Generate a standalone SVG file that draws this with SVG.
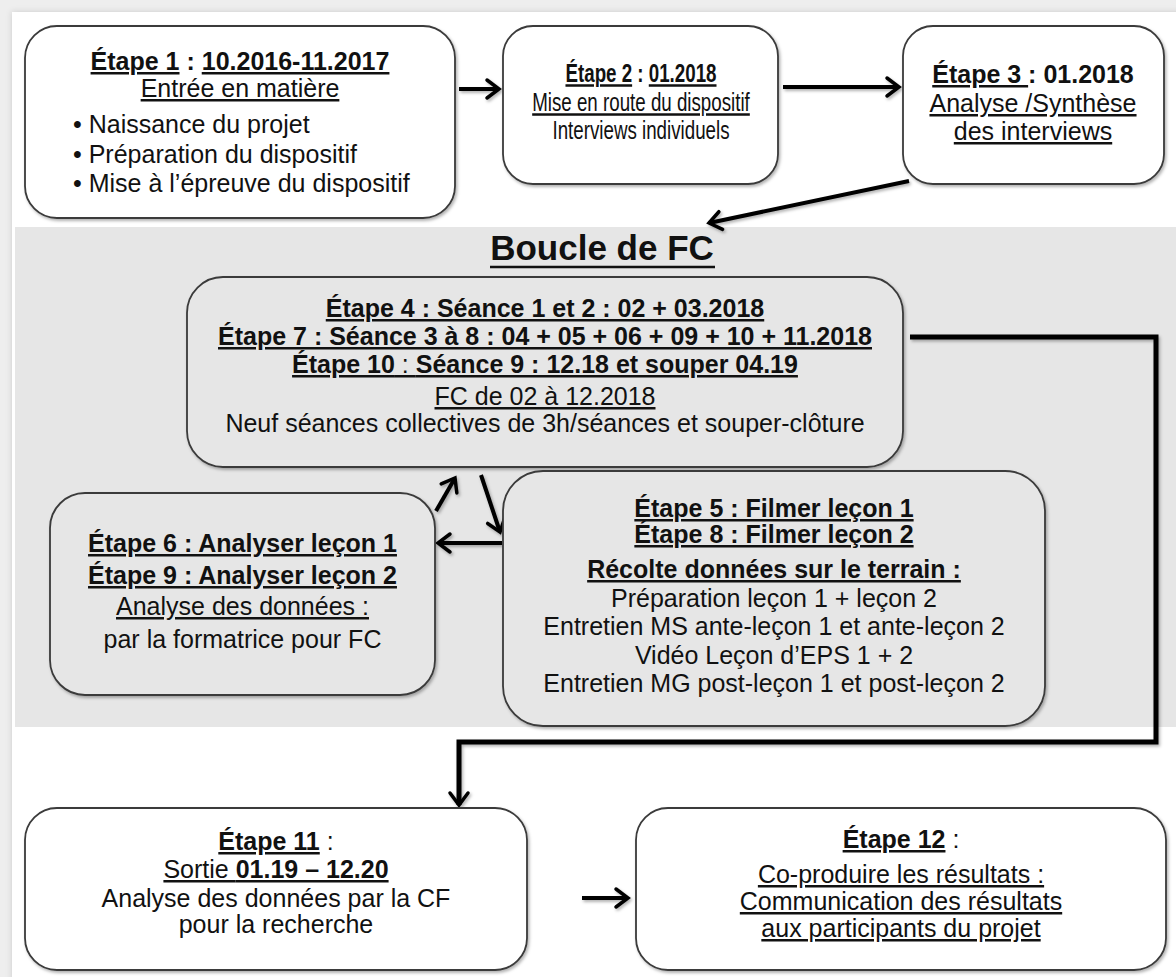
<svg xmlns="http://www.w3.org/2000/svg" width="1176" height="977" viewBox="0 0 1176 977">
<defs>
<style>
.t{font-family:"Liberation Sans",Arial,sans-serif;font-size:25px;fill:#111;text-anchor:middle}
.l{text-anchor:start}
.b{font-weight:700}
.u{text-decoration:underline}
.box{fill:#fff;stroke:#3a3a3a;stroke-width:1.8}
.gbox{fill:#e6e6e6;stroke:#3a3a3a;stroke-width:1.8}
.arr{fill:none;stroke:#000;stroke-width:4;marker-end:url(#ah)}
.conn{fill:none;stroke:#000;stroke-width:5;stroke-linejoin:miter;marker-end:url(#ah)}
</style>
<filter id="sh" x="-5%" y="-5%" width="110%" height="115%">
<feDropShadow dx="1.5" dy="2" stdDeviation="1.5" flood-color="#000" flood-opacity="0.3"/>
</filter>
<filter id="pg" x="-2%" y="-2%" width="104%" height="104%">
<feDropShadow dx="0" dy="0" stdDeviation="3" flood-color="#000" flood-opacity="0.15"/>
</filter>
<marker id="ah" markerUnits="userSpaceOnUse" markerWidth="18" markerHeight="24" viewBox="-3 -12 18 24" refX="12" refY="0" orient="auto">
<path d="M0,-9 L12,0 L0,9" fill="none" stroke="#000" stroke-width="3.5" stroke-linecap="round"/>
</marker>
</defs>

<rect width="1176" height="977" fill="#eeeeee"/>
<rect x="12" y="12" width="1170" height="970" fill="#ffffff" filter="url(#pg)"/>
<rect x="15" y="227" width="1161" height="500" fill="#e6e6e6"/>

<g id="title">
<text class="t b" x="602" y="260" style="font-size:35px">Boucle de FC</text>
<line x1="490" y1="267" x2="715" y2="267" stroke="#111" stroke-width="2.5"/>
</g>

<g id="connectors">
<g filter="url(#sh)">
<line class="arr" x1="459" y1="89" x2="499" y2="89"/>
<line class="arr" x1="783" y1="87" x2="899" y2="87"/>
<line class="arr" x1="909" y1="181" x2="709" y2="223"/>
<polyline class="conn" points="910,337 1156,337 1156,742 459,742 459,805"/>
<line class="arr" x1="436" y1="511" x2="455" y2="478"/>
<line class="arr" x1="481" y1="475" x2="500" y2="532"/>
<line class="arr" x1="502" y1="543" x2="438" y2="543"/>
<line class="arr" x1="582" y1="898" x2="628" y2="898"/>
</g>
</g>

<g id="n1">
<rect class="box" x="25" y="26" width="430" height="192" rx="32" filter="url(#sh)"/>
<text class="t b" x="240" y="70"><tspan class="u">Étape 1</tspan> : <tspan class="u">10.2016-11.2017</tspan></text>
<text class="t u" x="240" y="97">Entrée en matière</text>
<text class="t l" x="73" y="133">• Naissance du projet</text>
<text class="t l" x="73" y="163">• Préparation du dispositif</text>
<text class="t l" x="73" y="192">• Mise à l’épreuve du dispositif</text>
</g>

<g id="n2">
<rect class="box" x="503" y="26" width="275" height="158" rx="30" filter="url(#sh)"/>
<g transform="translate(641,0) scale(0.75,1) translate(-641,0)">
<text class="t b" x="641" y="82"><tspan class="u">Étape 2</tspan> : <tspan class="u">01.2018</tspan></text>
<text class="t u" x="641" y="111">Mise en route du dispositif</text>
<text class="t" x="641" y="139">Interviews individuels</text>
</g>
</g>

<g id="n3">
<rect class="box" x="903" y="26" width="261" height="158" rx="30" filter="url(#sh)"/>
<text class="t b" x="1033" y="83"><tspan class="u">Étape 3 </tspan>: 01.2018</text>
<text class="t u" x="1033" y="112">Analyse /Synthèse</text>
<text class="t u" x="1033" y="140">des interviews</text>
</g>

<g id="n4">
<rect class="gbox" x="187" y="277" width="716" height="190" rx="36" filter="url(#sh)"/>
<text class="t b u" x="545" y="317">Étape 4 : Séance 1 et 2 : 02 + 03.2018</text>
<text class="t b u" x="545" y="345">Étape 7 : Séance 3 à 8 : 04 + 05 + 06 + 09 + 10 + 11.2018</text>
<text class="t u" x="545" y="373"><tspan class="b">Étape 10</tspan> : <tspan class="b">Séance 9 : 12.18 et souper 04.19</tspan></text>
<text class="t u" x="545" y="405">FC de 02 à 12.2018</text>
<text class="t" x="545" y="432">Neuf séances collectives de 3h/séances et souper-clôture</text>
</g>

<g id="n6">
<rect class="gbox" x="50" y="493" width="385" height="202" rx="35" filter="url(#sh)"/>
<text class="t b u" x="242.5" y="552">Étape 6 : Analyser leçon 1</text>
<text class="t b u" x="242.5" y="584">Étape 9 : Analyser leçon 2</text>
<text class="t u" x="242.5" y="615">Analyse des données :</text>
<text class="t" x="242.5" y="648">par la formatrice pour FC</text>
</g>

<g id="n5">
<rect class="gbox" x="503" y="471" width="542" height="255" rx="40" filter="url(#sh)"/>
<text class="t b u" x="774" y="517">Étape 5 : Filmer leçon 1</text>
<text class="t b u" x="774" y="543">Étape 8 : Filmer leçon 2</text>
<text class="t b u" x="774" y="578">Récolte données sur le terrain :</text>
<text class="t" x="774" y="607">Préparation leçon 1 + leçon 2</text>
<text class="t" x="774" y="635">Entretien MS ante-leçon 1 et ante-leçon 2</text>
<text class="t" x="774" y="664">Vidéo Leçon d’EPS 1 + 2</text>
<text class="t" x="774" y="692">Entretien MG post-leçon 1 et post-leçon 2</text>
</g>

<g id="n11">
<rect class="box" x="25" y="808" width="502" height="162" rx="32" filter="url(#sh)"/>
<text class="t" x="276" y="850"><tspan class="b u">Étape 11</tspan> :</text>
<text class="t u" x="276" y="878">Sortie <tspan class="b">01.19 – 12.20</tspan></text>
<text class="t" x="276" y="907">Analyse des données par la CF</text>
<text class="t" x="276" y="933">pour la recherche</text>
</g>

<g id="n12">
<rect class="box" x="636" y="808" width="530" height="162" rx="32" filter="url(#sh)"/>
<text class="t" x="901" y="848"><tspan class="b u">Étape 12</tspan> :</text>
<text class="t u" x="901" y="883">Co-produire les résultats :</text>
<text class="t u" x="901" y="910">Communication des résultats</text>
<text class="t u" x="901" y="937">aux participants du projet</text>
</g>
</svg>
